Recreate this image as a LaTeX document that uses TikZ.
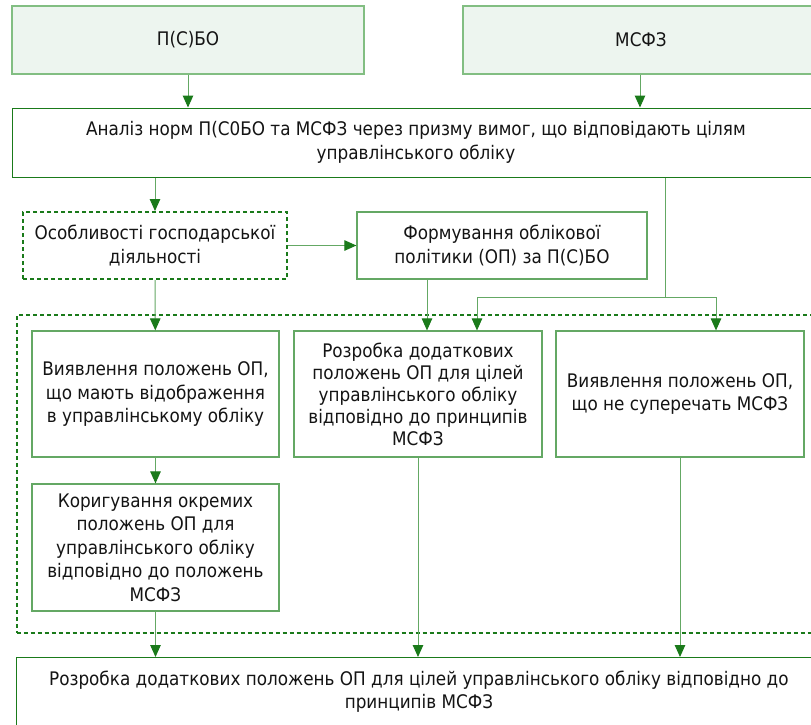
\documentclass[tikz,border=0pt]{standalone}
\usepackage{fontspec}
\setmainfont{DejaVu Sans Condensed}
\usetikzlibrary{arrows.meta,calc}
\definecolor{dg}{RGB}{26,122,26}
\definecolor{lg}{RGB}{100,168,100}
\definecolor{tg}{RGB}{130,190,130}
\definecolor{fillg}{RGB}{237,245,239}
\definecolor{txt}{RGB}{20,20,20}
\begin{document}
\begin{tikzpicture}[x=1pt,y=-1pt,
  box/.style={draw=lg, line width=1.2pt, align=center, inner sep=0pt,
    font=\fontsize{18.7}{23.5}\selectfont, text=txt},
  topbox/.style={box, draw=tg, fill=fillg},
  dotbox/.style={box, draw=dg, line width=2pt, dash pattern=on 4pt off 3pt},
  conn/.style={draw=lg, line width=1pt},
  arr/.style={conn, -{Triangle[length=12pt,width=10.5pt,color=dg]}}
]
\clip (0,0) rectangle (811,724);
\fill[white] (0,0) rectangle (811,724);

\node[topbox, minimum width=352, minimum height=68] (psbo) at (188,40) {П(С)БО};
\node[topbox, minimum width=356, minimum height=68] (msfz) at (641,40) {МСФЗ};
\node[box, draw=dg, line width=1pt, minimum width=808, minimum height=69] (anal) at (416,142.5)
  {Аналіз норм П(С0БО та МСФЗ через призму вимог, що відповідають цілям\\управлінського обліку};
\node[dotbox, minimum width=264, minimum height=67] (osob) at (155,245.5)
  {Особливості господарської\\діяльності};
\node[box, minimum width=290, minimum height=67] (form) at (502,245.5)
  {Формування облікової\\політики (ОП) за П(С)БО};

\node[dotbox, minimum width=810, minimum height=318, anchor=north west] (cont) at (15.5,314) {};

\node[box, minimum width=247, minimum height=126] (A) at (155.5,394)
  {Виявлення положень ОП,\\що мають відображення\\в управлінському обліку};
\node[box, minimum width=248, minimum height=126, font=\fontsize{18.7}{22}\selectfont] (B) at (418,394)
  {Розробка додаткових\\положень ОП для цілей\\управлінського обліку\\відповідно до принципів\\МСФЗ};
\node[box, minimum width=248, minimum height=126] (C) at (680,394)
  {Виявлення положень ОП,\\що не суперечать МСФЗ};
\node[box, minimum width=247, minimum height=127] (D) at (155.5,547.5)
  {Коригування окремих\\положень ОП для\\управлінського обліку\\відповідно до положень\\МСФЗ};
\node[box, draw=dg, line width=1pt, minimum width=806, minimum height=68, anchor=north west] (fin) at (15.5,657)
  {Розробка додаткових положень ОП для цілей управлінського обліку відповідно до\\принципів МСФЗ};

\draw[arr] (psbo) -- (psbo |- anal.north);
\draw[arr] (msfz.south -| 640,0) -- (anal.north -| 640,0);
\draw[arr] (anal.south -| osob) -- (osob.north);
\draw[arr] (osob) -- (form);
\draw[arr] (osob) -- (A);
\coordinate (fx) at (427,0);
\draw[arr] (form.south -| fx) -- (B.north -| fx);
\coordinate (j) at (665,297);
\coordinate (jl) at (477,297);
\coordinate (jr) at (716,297);
\draw[conn] (anal.south -| j) -- (j);
\draw[conn] (jl) -- (jr);
\draw[arr] (jl) -- (jl |- B.north);
\draw[arr] (jr) -- (jr |- C.north);
\draw[arr] (A) -- (D);
\draw[arr] (D) -- (D |- fin.north);
\draw[arr] (B) -- (B |- fin.north);
\draw[arr] (C) -- (C |- fin.north);
\end{tikzpicture}
\end{document}
